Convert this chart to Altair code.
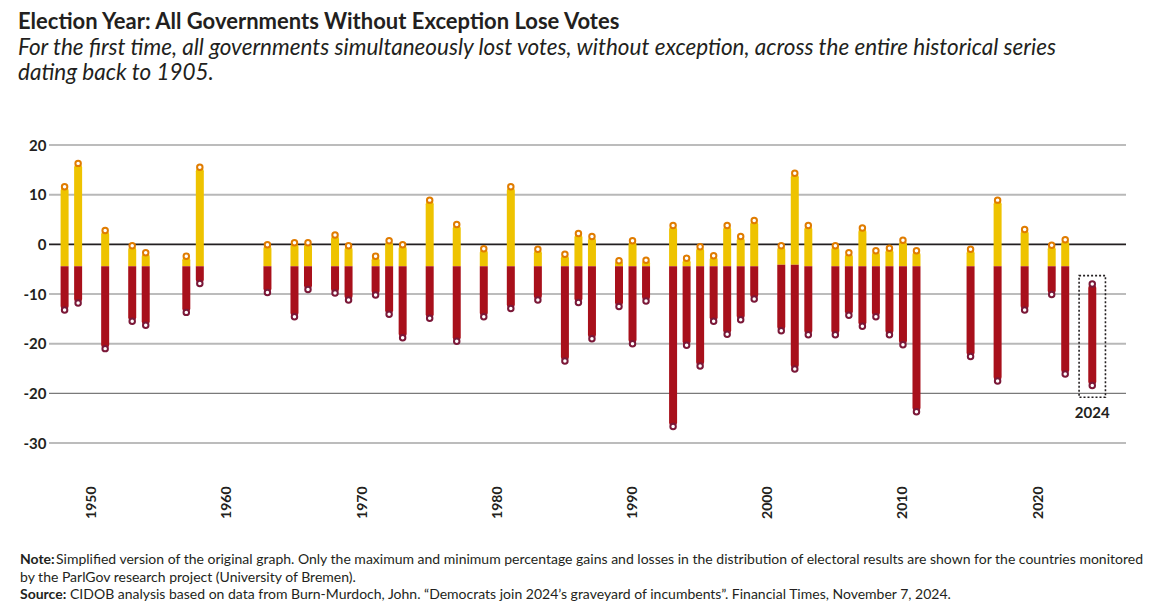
import altair as alt
import pandas as pd

# ---------------- data ----------------
years = [1948, 1949, 1951, 1953, 1954, 1957, 1958, 1963, 1965, 1966, 1968, 1969,
         1971, 1972, 1973, 1975, 1977, 1979, 1981, 1983, 1985, 1986, 1987, 1989,
         1990, 1991, 1993, 1994, 1995, 1996, 1997, 1998, 1999, 2001, 2002, 2003,
         2005, 2006, 2007, 2008, 2009, 2010, 2011, 2015, 2017, 2019, 2021, 2022, 2024]
max_vals = [11.6, 16.3, 2.8, -0.3, -1.7, -2.4, 15.5, -0.1, 0.3, 0.3, 1.9, -0.3,
            -2.4, 0.7, -0.1, 8.9, 4.0, -0.9, 11.6, -1.0, -2.0, 2.2, 1.6, -3.3,
            0.7, -3.2, 3.8, -2.8, -0.5, -2.3, 3.8, 1.6, 4.8, -0.3, 14.3, 3.8,
            -0.3, -1.7, 3.3, -1.3, -0.8, 0.8, -1.3, -1.0, 8.9, 3.0, -0.2, 0.9, -8.0]
min_vals = [-13.2, -11.8, -21.0, -15.5, -16.3, -13.7, -7.9, -9.7, -14.6, -9.1, -9.8, -11.2,
            -10.2, -14.1, -18.8, -14.9, -19.5, -14.6, -12.9, -11.2, -23.5, -11.7, -19.0, -12.5,
            -20.0, -11.4, -36.7, -20.3, -24.5, -15.5, -18.1, -15.2, -11.0, -17.4, -25.1, -18.2,
            -18.2, -14.3, -16.5, -14.6, -18.2, -20.2, -33.7, -22.6, -27.5, -13.2, -10.1, -26.1, -28.4]
split_default = -4.4
split_override_years = [2001, 2002]
split_override_value = -4.1

grid_vals = [20, 10, 0, -10, -20, -30, -40]
grid_labels = ["20", "10", "0", "-10", "-20", "-20", "-30"]
grid_colors = ["#7a7a7a", "#b8b8b8", "#231f20", "#7a7a7a", "#b8b8b8", "#7a7a7a", "#7a7a7a"]
grid_widths = [1.2, 2.0, 1.6, 1.2, 2.0, 1.2, 1.2]
x_ticks = [1950, 1960, 1970, 1980, 1990, 2000, 2010, 2020]

highlight_year = 2024
highlight_label = "2024"

title_text = "Election Year: All Governments Without Exception Lose Votes"
subtitle_lines = [
    "For the first time, all governments simultaneously lost votes, without exception, across the entire historical series",
    "dating back to 1905.",
]
note_label = "Note:"
note_lines = [
    "Simplified version of the original graph. Only the maximum and minimum percentage gains and losses in the distribution of electoral results are shown for the countries monitored",
    "by the ParlGov research project (University of Bremen).",
]
source_label = "Source:"
source_text = ("CIDOB analysis based on data from Burn-Murdoch, John. \u201cDemocrats join 2024\u2019s graveyard "
               "of incumbents\u201d. Financial Times, November 7, 2024.")

# ---------------- styling ----------------
YELLOW = "#EEC300"
RED = "#A8101B"
ORANGE = "#E07C00"
DARK = "#7B1838"
INK = "#231f20"
FONT = "Lato"

splits = [split_override_value if y in split_override_years else split_default for y in years]
df = pd.DataFrame({"year": years, "vmax": max_vals, "vmin": min_vals, "split": splits})
df["has_yellow"] = df["vmax"] > df["split"]
df["top_stroke"] = [ORANGE if h else DARK for h in df["has_yellow"]]

hl = df[df["year"] == highlight_year].iloc[0]
box_df = pd.DataFrame({
    "x1": [highlight_year - 0.975], "x2": [highlight_year + 0.975],
    "y1": [hl["vmax"] + 1.7], "y2": [hl["vmin"] - 2.4],
    "ly": [hl["vmin"] - 5.6], "year": [highlight_year], "label": [highlight_label],
})

grid_df = pd.DataFrame({"v": grid_vals, "c": grid_colors, "w": grid_widths})

label_expr = "datum.label"
for v, l in zip(grid_vals, grid_labels):
    label_expr = f"datum.value === {v} ? '{l}' : ({label_expr})"

xscale = alt.Scale(domain=[1947.216, 2026.125], nice=False, zero=False)
yscale = alt.Scale(domain=[-40, 20], nice=False, zero=False)
xaxis = alt.Axis(values=x_ticks, format="d", labelAngle=-90, labelFontSize=14,
                 labelFontWeight="bold", labelFont=FONT, labelColor=INK, labelPadding=43,
                 ticks=False, tickSize=0, domain=False, grid=False, title=None)
yaxis = alt.Axis(values=grid_vals, labelExpr=label_expr, labelFontSize=15,
                 labelFontWeight="bold", labelFont=FONT, labelColor=INK, labelPadding=3,
                 ticks=False, tickSize=0, domain=False, grid=False, title=None)


def X(field):
    return alt.X(field, scale=xscale, axis=xaxis)


def Y(field):
    return alt.Y(field, scale=yscale, axis=yaxis)


base = alt.Chart(df)

grid = alt.Chart(grid_df).mark_rule().encode(
    y=Y("v:Q"),
    color=alt.Color("c:N", scale=None),
    strokeWidth=alt.StrokeWidth("w:Q", scale=None),
)

yellow = base.transform_filter("datum.has_yellow").mark_bar(
    size=8, color=YELLOW, cornerRadiusTopLeft=4, cornerRadiusTopRight=4
).encode(x=X("year:Q"), y=Y("vmax:Q"), y2="split:Q")

red_a = base.transform_filter("datum.has_yellow").mark_bar(
    size=8, color=RED, cornerRadiusBottomLeft=4, cornerRadiusBottomRight=4
).encode(x=X("year:Q"), y=Y("split:Q"), y2="vmin:Q")

red_b = base.transform_filter("!datum.has_yellow").mark_bar(
    size=8, color=RED, cornerRadius=4
).encode(x=X("year:Q"), y=Y("vmax:Q"), y2="vmin:Q")

top_pts = base.mark_point(shape="circle", filled=True, fill="white", strokeWidth=2,
                          size=30, opacity=1).encode(
    x=X("year:Q"), y=Y("vmax:Q"),
    stroke=alt.Stroke("top_stroke:N", scale=None),
)
bot_pts = base.mark_point(shape="circle", filled=True, fill="white", strokeWidth=2,
                          size=30, opacity=1, stroke=DARK).encode(
    x=X("year:Q"), y=Y("vmin:Q"),
)

box = alt.Chart(box_df).mark_rect(fill="white", fillOpacity=0, stroke=INK,
                                  strokeWidth=1.6, strokeDash=[2, 2]).encode(
    x=X("x1:Q"), x2="x2:Q",
    y=Y("y1:Q"), y2="y2:Q",
)
box_label = alt.Chart(box_df).mark_text(font=FONT, fontSize=15, fontWeight="bold",
                                        color=INK, baseline="middle").encode(
    x=X("year:Q"), y=Y("ly:Q"), text="label:N",
)


def text_layer(txt, x, y, size, weight="normal", style="normal"):
    return alt.Chart(pd.DataFrame({"t": [txt]})).mark_text(
        align="left", baseline="middle", font=FONT, fontSize=size,
        fontWeight=weight, fontStyle=style, color=INK,
    ).encode(x=alt.value(x), y=alt.value(y), text="t:N")


texts = [
    text_layer(title_text, -31, -123.5, 22, weight="bold"),
    text_layer(subtitle_lines[0], -31, -97, 22.5, style="italic"),
    text_layer(subtitle_lines[1], -31, -72, 22.5, style="italic"),
    text_layer(note_label, -29, 415, 14, weight="bold"),
    text_layer(note_lines[0], 7, 415, 14),
    text_layer(note_lines[1], -29, 433, 14),
    text_layer(source_label, -29, 450, 14, weight="bold"),
    text_layer(source_text, 21, 450, 14),
]

chart = alt.layer(grid, yellow, red_a, red_b, top_pts, bot_pts, box, box_label, *texts).properties(
    width=1077, height=298,
    autosize=alt.AutoSizeParams(type="none"),
    padding={"left": 41, "top": 137, "right": 30, "bottom": 160},
    background="white",
).configure_view(stroke="transparent", strokeWidth=0)

chart.save("out.html", embed_options={"renderer": "svg", "actions": False})
